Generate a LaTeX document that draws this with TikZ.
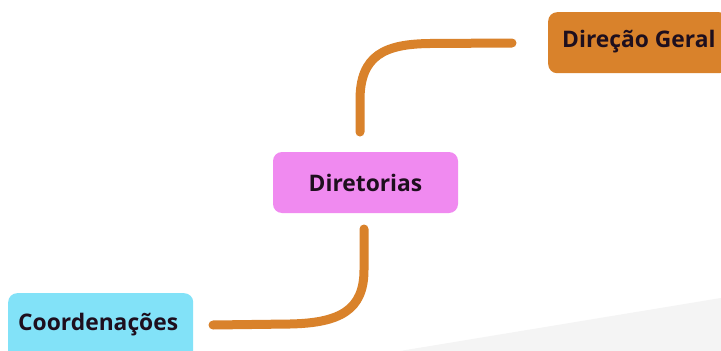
\documentclass[tikz,border=0pt]{standalone}
\usepackage{fontspec}
\setmainfont{Open Sans}
\definecolor{orangeC}{HTML}{D9822B}
\definecolor{pinkC}{HTML}{F08AF0}
\definecolor{cyanC}{HTML}{82E2F8}
\definecolor{txtC}{HTML}{1E0F1E}
\definecolor{texC}{HTML}{F4F4F4}
\tikzset{
  lbl/.style={text=txtC, inner sep=0pt, font=\bfseries\fontsize{22.8}{24}\selectfont},
  box/.style={rounded corners=9pt, inner sep=0pt}
}
\tikzset{
  link/.style={draw=orangeC, line width=9pt, line cap=round}
}
\begin{document}
\begin{tikzpicture}[x=1pt,y=-1pt]
\useasboundingbox (0,0) rectangle (721,351);
\fill[white] (0,0) rectangle (721,351);
\fill[texC] (400,351) -- (721,298) -- (721,351) -- cycle;
\node[box, fill=orangeC, minimum width=180pt, minimum height=61pt, anchor=north west] (dg) at (548,12) {};
\node[lbl, anchor=west] (dgt) at (562,42) {Direção Geral};
\node[box, fill=pinkC, minimum width=185pt, minimum height=61pt] (dir) at (365.5,182.5) {};
\node[lbl] (dirt) at (dir.center) {Diretorias};
\node[box, fill=cyanC, minimum width=185pt, minimum height=70pt, anchor=north west] (co) at (8,293) {};
\node[lbl, anchor=west] (cot) at (18,325) {Coordenações};
\coordinate (a1) at (360,132);
\coordinate (a2) at (512,43);
\coordinate (b1) at (364,229);
\coordinate (b2) at (213,325);
\draw[link] (a1) -- (360,100) .. controls (360,55) and (385,44) .. (430,43.5) -- (a2);
\draw[link] (b1) -- (364,270) .. controls (364,310) and (340,323) .. (290,324) -- (b2);
\end{tikzpicture}
\end{document}
